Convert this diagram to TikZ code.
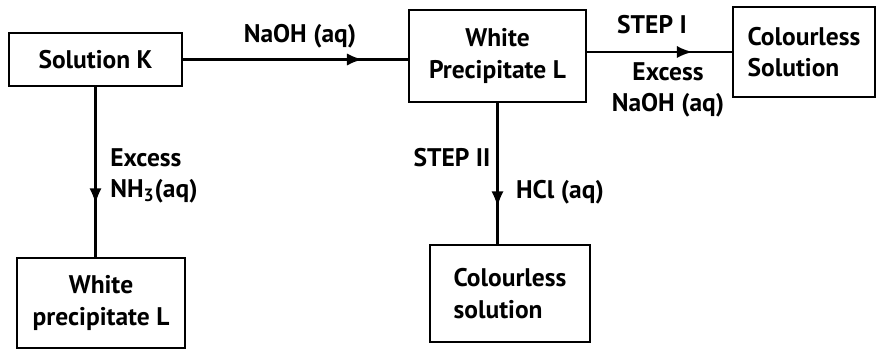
\documentclass[tikz,border=0pt]{standalone}
\usepackage{fontspec}
\setmainfont{PT Sans}
\usepackage{tikz}
\usetikzlibrary{arrows.meta,decorations.markings}
\tikzstyle{caja}=[draw,line width=1.6pt,inner sep=0pt,font=\fontsize{14.5}{18}\selectfont\bfseries]
\tikzstyle{texto}=[inner sep=0pt,font=\fontsize{14.5}{18}\selectfont\bfseries]
\tikzstyle{flecha}=[line width=1.6pt,postaction={decorate},
    decoration={markings,mark=at position #1 with {\arrow{Latex[length=9pt,width=7pt]}}}]

\begin{document}
\begin{tikzpicture}[x=0.02cm,y=-0.02cm]
    \useasboundingbox (0,0) rectangle (878,350);
    \node [caja,minimum width=173*0.02cm,minimum height=53*0.02cm] (solk) at (95.5,59.5) {Solution K};
    \node [caja,minimum width=177*0.02cm,minimum height=92*0.02cm,align=center] (precl) at (497.5,56) {White\\Precipitate L};
    \node [caja,minimum width=142*0.02cm,minimum height=90*0.02cm,align=left] (incol) at (804,52) {Colourless\\Solution};
    \node [caja,minimum width=168*0.02cm,minimum height=90*0.02cm,align=center] (precb) at (101,303) {White\\precipitate L};
    \node [caja,minimum width=160*0.02cm,minimum height=97*0.02cm,align=left] (incolb) at (510,293.5) {Colourless\\solution};
    \draw [flecha=0.8] (solk.east) -- (solk.east -| precl.west);
    \draw [flecha=0.73] (precl.east |- incol.west) -- (incol.west);
    \draw [flecha=0.69] (solk.south) -- (solk.south |- precb.north);
    \draw [flecha=0.74] (precl.south) -- (precl.south |- incolb.north);
    \node [texto] (t1) at (300,36) {NaOH (aq)};
    \node [texto] (t2) at (652,25) {STEP I};
    \node [texto,align=center] (t3) at (668,90) {Excess\\NaOH (aq)};
    \node [texto,align=left,anchor=west] (t4) at (110,176) {Excess\\NH\textsubscript{3}(aq)};
    \node [texto] (t5) at (452,158) {STEP II};
    \node [texto] (t6) at (560,192) {HCl (aq)};
\end{tikzpicture}
\end{document}
